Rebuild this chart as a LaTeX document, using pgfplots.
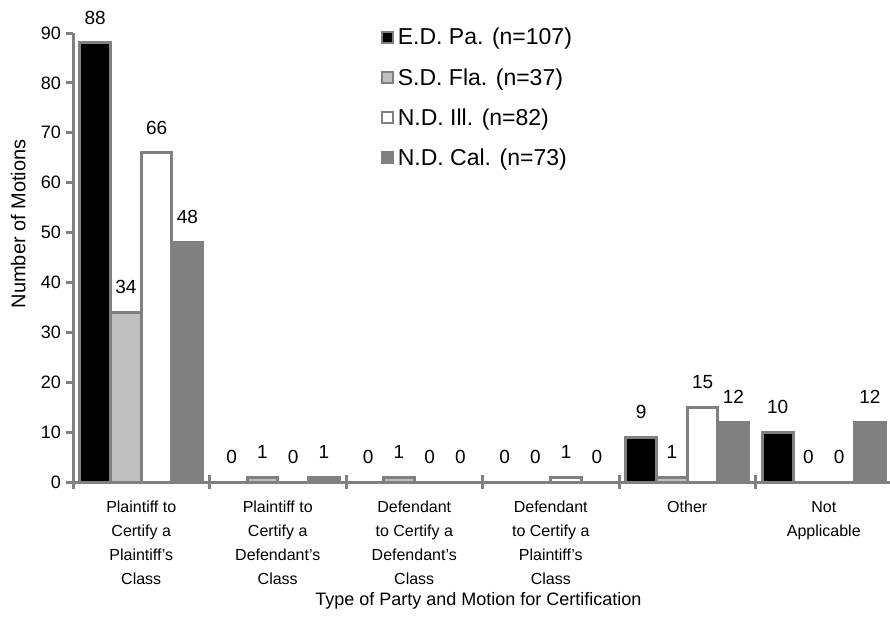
\documentclass[border=0pt]{standalone}
\usepackage{fontspec}
\setmainfont{Liberation Sans}
\usepackage{pgfplots}
\pgfplotsset{compat=1.18}
\definecolor{axgray}{RGB}{128,128,128}
\definecolor{lgray}{RGB}{192,192,192}
\definecolor{dgray}{RGB}{128,128,128}
\begin{document}
\begin{tikzpicture}
\begin{axis}[
  /pgf/number format/assume math mode=true,
  scale only axis,
  width=819pt, height=449pt,
  ybar=0pt, bar width=0.225,
  xmin=-0.5, xmax=5.5, ymin=0, ymax=90,
  axis lines*=left,
  axis line style={draw=axgray, line width=3pt},
  axis on top,
  ytick={0,10,...,90},
  xtick={0,...,5},
  xticklabels={{Plaintiff to\\Certify a\\Plaintiff's\\Class},
               {Plaintiff to\\Certify a\\Defendant's\\Class},
               {Defendant\\to Certify a\\Defendant's\\Class},
               {Defendant\\to Certify a\\Plaintiff's\\Class},
               {Other},
               {Not\\Applicable}},
  minor xtick={-0.5,0.5,...,5.5},
  xtick align=center,
  ytick align=outside,
  major tick length=7pt,
  minor tick length=14pt,
  xtick style={draw=none},
  minor x tick style={draw=axgray, line width=3pt},
  ytick style={draw=axgray, line width=3pt},
  yticklabel style={font=\fontsize{18}{20}\selectfont, inner sep=2pt, xshift=-3pt},
  xticklabel style={align=center, font=\fontsize{16}{24}\selectfont, yshift=-12pt},
  xlabel={Type of Party and Motion for Certification},
  ylabel={Number of Motions},
  every axis x label/.style={at={(axis description cs:0.495,-0.264)}, anchor=center, font=\fontsize{18}{20}\selectfont},
  every axis y label/.style={at={(axis description cs:-0.067,0.575)}, anchor=center, rotate=90, font=\fontsize{20}{22}\selectfont},
  nodes near coords,
  every node near coord/.append style={font=\fontsize{19}{20}\selectfont, inner sep=0pt, yshift=17pt, text=black},
  legend style={at={(rel axis cs:0.372,1.02)}, anchor=north west, draw=none, fill=none,
    font=\fontsize{23}{27}\selectfont, row sep=18pt, legend cell align=left,
    nodes={inner xsep=4pt}},
  legend image code/.code={\draw[#1, line width=2pt] (0pt,-5.5pt) rectangle (11pt,5.5pt);},
]
\addplot[fill=black, draw=axgray, line width=3pt] coordinates {(0,88) (1,0) (2,0) (3,0) (4,9) (5,10)};
\addplot[fill=lgray, draw=axgray, line width=3pt] coordinates {(0,34) (1,1) (2,1) (3,0) (4,1) (5,0)};
\addplot[fill=white, draw=axgray, line width=3pt] coordinates {(0,66) (1,0) (2,0) (3,1) (4,15) (5,0)};
\addplot[fill=dgray, draw=dgray, line width=3pt] coordinates {(0,48) (1,1) (2,0) (3,0) (4,12) (5,12)};
\legend{E.D. Pa. (n=107), S.D. Fla. (n=37), N.D. Ill. (n=82), N.D. Cal. (n=73)}
\coordinate (O) at (rel axis cs:0,0);
\end{axis}
\pgfresetboundingbox
\path[use as bounding box] ([xshift=-73pt,yshift=-143pt]O) rectangle ([xshift=817pt,yshift=482pt]O);
\end{tikzpicture}
\end{document}
